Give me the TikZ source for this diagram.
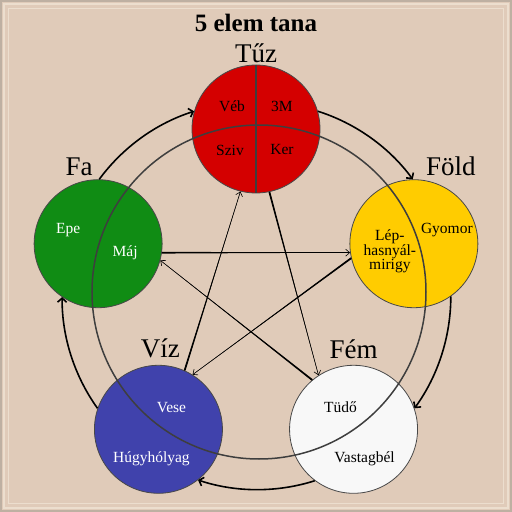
\documentclass[tikz,border=0pt]{standalone}
\usepackage{fontspec}
\setmainfont{Liberation Serif}
\usetikzlibrary{calc,arrows.meta}

\definecolor{paper}{RGB}{224,203,185}
\definecolor{paperdark}{RGB}{190,176,162}
\definecolor{paperlight}{RGB}{236,222,206}
\definecolor{rim}{RGB}{72,72,72}
\definecolor{ring}{RGB}{62,62,62}
\definecolor{firered}{RGB}{212,0,0}
\definecolor{woodgreen}{RGB}{16,140,20}
\definecolor{earthyellow}{RGB}{255,204,0}
\definecolor{waterblue}{RGB}{64,66,172}
\definecolor{metalwhite}{RGB}{248,248,248}

\begin{document}
\begin{tikzpicture}
% Style
[
    x=1pt, y=1pt,
    element/.style={circle, draw=rim, line width=.8pt, minimum size=128pt, inner sep=0pt},
    organ/.style={font=\fontsize{15.5}{14.5}\selectfont, align=center},
    elemlabel/.style={font=\fontsize{27}{30}\selectfont},
    nourish/.style={line width=1.6pt, -{Straight Barb[length=4pt,width=9pt]}},
    restrain/.style={line width=.6pt, -{Straight Barb[length=4pt,width=7pt]}},
    taper/.style={fill=black},
    divider/.style={draw=ring, line width=1.5pt}
]

%=================================== Frame ===================================
\useasboundingbox (-256,-217) rectangle (256,295);
\fill[paper] (-256,-217) rectangle (256,295);
\foreach \d/\c/\w in {1/paperdark/1.5, 4.5/paperlight/2, 9/paperlight/1} {
    \draw[\c, line width=\w pt] ({-256+\d},{-217+\d}) rectangle ({256-\d},{295-\d});
}

\node[font=\fontsize{25}{28}\bfseries\selectfont, anchor=base] (title) at (0,263) {5 elem tana};

%================================== Elements ==================================
\node[element, fill=firered, label={[elemlabel, label distance=-2pt]above:Tűz}] (fire) at (90:166) {};
\node[element, fill=earthyellow, label={[elemlabel, xshift=37pt]above:Föld}] (earth) at (18:166) {};
\node[element, fill=metalwhite, label={[elemlabel, label distance=3pt]above:Fém}] (metal) at (306:166) {};
\node[element, fill=waterblue, label={[elemlabel, xshift=2pt, label distance=3pt]above:Víz}] (water) at (234:166) {};
\node[element, fill=woodgreen, label={[elemlabel, xshift=-19pt]above:Fa}] (wood) at (162:166) {};

\draw[divider] (3,3) circle[radius=167pt];
\draw[divider] (fire.north) -- (fire.south);

% organs
\node[organ] (veb)  at ([shift={(-24,23)}]fire.center) {Véb};
\node[organ] (harm) at ([shift={(26,23)}]fire.center) {3M};
\node[organ] (sziv) at ([shift={(-26,-21)}]fire.center) {Sziv};
\node[organ] (ker)  at ([shift={(26,-21)}]fire.center) {Ker};

\node[organ, text=white] (epe) at ([shift={(-30,14)}]wood.center) {Epe};
\node[organ, text=white] (maj) at ([shift={(27,-9)}]wood.center) {Máj};

\node[organ] (lep)    at ([shift={(-24,-8)}]earth.center) {Lép-\\hasnyál-\\mirigy};
\node[organ] (gyomor) at ([shift={(33,14)}]earth.center) {Gyomor};

\node[organ, text=white] (vese) at ([shift={(13,22)}]water.center) {Vese};
\node[organ, text=white] (hugy) at ([shift={(-7,-29)}]water.center) {Húgyhólyag};

\node[organ] (tudo)  at ([shift={(-13,22)}]metal.center) {Tüdő};
\node[organ] (vastag) at ([shift={(11,-29)}]metal.center) {Vastagbél};

%=================================== Cycles ===================================
\foreach \a/\b/\t [evaluate={\s=\t-73.5}, evaluate={\e=\t+1.5}]
    in {fire/earth/90, earth/metal/18, metal/water/-54, water/wood/-126, wood/fire/-198} {
    \draw[nourish] (\a.\s) to[bend left=18, looseness=.87] (\b.\e);
}

\foreach \a/\sa/\b/\eb in {wood/-8/earth/188, earth/193/water/58, water/66/fire/256, fire/282/metal/123, metal/130/wood/-15} {
    \fill[taper] ($(\a.\sa)!.9pt!90:(\b.\eb)$) -- ($(\a.\sa)!.9pt!-90:(\b.\eb)$) -- (\b.\eb) -- cycle;
    \draw[restrain] (\a.\sa) -- (\b.\eb);
}

\end{tikzpicture}
\end{document}
